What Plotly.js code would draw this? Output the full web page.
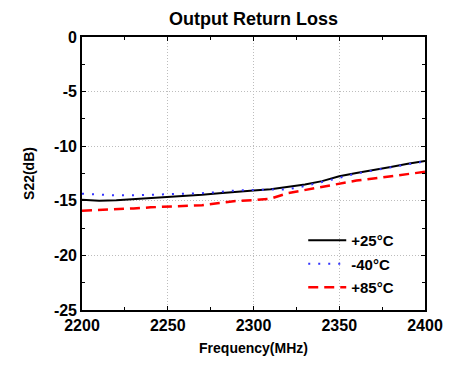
<!DOCTYPE html>
<html>
<head>
<meta charset="utf-8">
<script src="https://cdn.plot.ly/plotly-3.0.1.min.js"></script>
<style>html,body{margin:0;padding:0;background:#fff;}#chart{width:457px;height:367px;}</style>
</head>
<body>
<div id="chart"></div>
<script>
const freq = [2200,2210,2220,2230,2240,2250,2260,2270,2280,2290,2300,2310,2320,2330,2340,2350,2360,2370,2380,2390,2400];
const s22_p25 = [-14.9,-15.0,-14.95,-14.85,-14.8,-14.7,-14.6,-14.45,-14.3,-14.15,-14.05,-13.95,-13.75,-13.5,-13.2,-12.75,-12.45,-12.2,-11.9,-11.6,-11.35];
const s22_m40 = [-14.35,-14.45,-14.5,-14.5,-14.45,-14.45,-14.4,-14.3,-14.2,-14.05,-14.0,-14.0,-13.95,-13.65,-13.3,-12.9,-12.5,-12.2,-11.9,-11.65,-11.4];
const s22_p85 = [-15.9,-15.85,-15.8,-15.7,-15.6,-15.55,-15.5,-15.4,-15.2,-15.0,-14.95,-14.8,-14.3,-14.0,-13.7,-13.4,-13.15,-12.95,-12.75,-12.5,-12.35];
const names = ['+25°C','-40°C','+85°C'];
const xTicks = [2200,2250,2300,2350,2400];
const xTickLabels = ['2200','2250','2300','2350','2400'];
const yTicks = [0,-5,-10,-15,-20,-25];
const yTickLabels = ['0','-5','-10','-15','-20','-25'];

const F = '"Liberation Sans", Arial, sans-serif';
const traces = [
  {x:freq, y:s22_p25, name:'<b>'+names[0]+'</b>', mode:'lines', line:{color:'#000000', width:2}, legendgroup:'a'},
  {x:freq, y:s22_m40, name:'<b>'+names[1]+'</b>', mode:'lines', line:{color:'#3333ff', width:2, dash:'2px,8px'}, legendgroup:'b'},
  {x:freq, y:s22_p85, name:'<b>'+names[2]+'</b>', mode:'lines', line:{color:'#ff0000', width:2.5, dash:'10px,6px'}, legendgroup:'c'}
];
function axis(extra) {
  return Object.assign({
    showline:true, linecolor:'#000', linewidth:1.8, mirror:'ticks',
    ticks:'inside', ticklen:4, tickcolor:'#000', tickwidth:1,
    showgrid:true, gridcolor:'#bdbdbd', griddash:'1px,2px', gridwidth:1,
    zeroline:false,
    tickfont:{family:F, size:16, color:'#000', weight:'bold'}
  }, extra);
}
const layout = {
  width:457, height:367,
  margin:{l:82, r:32, t:37, b:57},
  paper_bgcolor:'#fff', plot_bgcolor:'#fff',
  title:{text:'<b>Output Return Loss</b>', font:{family:F, size:18, color:'#000'}, x:0.5, xanchor:'center', y:0.95, yanchor:'middle', xref:'paper'},
  xaxis:axis({
    range:[2200,2400], tickmode:'array', tickvals:xTicks, ticktext:xTickLabels,
    minor:{ticks:'inside', ticklen:3, tickcolor:'#000', dtick:25, tick0:2200, showgrid:false},
    title:{text:'<b>Frequency(MHz)</b>', font:{family:F, size:14, color:'#000'}, standoff:10}
  }),
  yaxis:axis({
    range:[-25,0], tickmode:'array', tickvals:yTicks, ticktext:yTickLabels,
    minor:{ticks:'inside', ticklen:3, tickcolor:'#000', dtick:2.5, tick0:0, showgrid:false},
    title:{text:'<b>S22(dB)</b>', font:{family:F, size:14, color:'#000'}, standoff:16}
  }),
  showlegend:true,
  legend:{x:0.645, y:0.315, xanchor:'left', yanchor:'top', bgcolor:'rgba(255,255,255,0)', borderwidth:0,
    font:{family:F, size:15, color:'#000'}, traceorder:'grouped', tracegroupgap:1, itemwidth:38}
};
Plotly.newPlot('chart', traces, layout, {staticPlot:true, displayModeBar:false});
</script>
</body>
</html>
